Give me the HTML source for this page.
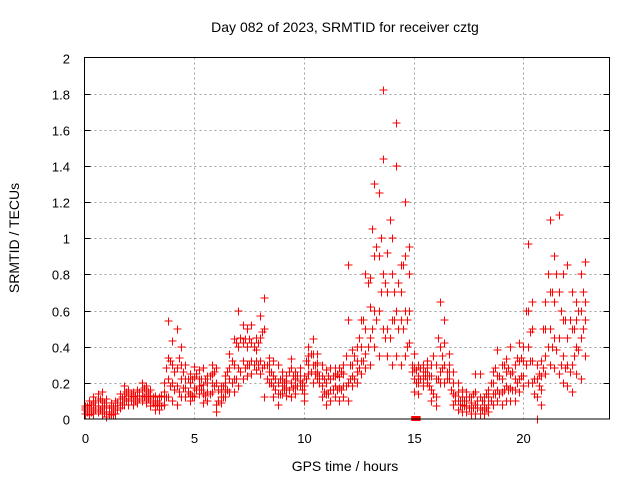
<!DOCTYPE html>
<html><head><meta charset="utf-8"><style>
body{margin:0;background:#fff}
svg{display:block;font-family:"Liberation Sans",sans-serif}
</style></head><body>
<svg id="chart" width="640" height="480">
<text x="345" y="32" font-size="14" text-anchor="middle" fill="#000">Day 082 of 2023, SRMTID for receiver cztg</text>
<text transform="translate(19,238) rotate(-90)" font-size="14" text-anchor="middle">SRMTID / TECUs</text>
<text x="345" y="471" font-size="14" text-anchor="middle">GPS time / hours</text>
<g id="grid"></g><g id="marks"></g>
<rect x="84.5" y="57.5" width="525" height="361.5" fill="none" stroke="#000" stroke-width="1"/>
</svg>
<script>
const times=[0,0.2,0.4,0.6,0.8,1,1.2,1.4,1.6,1.8,2,2.2,2.4,2.6,2.8,3,3.2,3.4,3.6,3.8,4,4.2,4.4,4.6,4.8,5,5.2,5.4,5.6,5.8,6,6.2,6.4,6.6,6.8,7,7.2,7.4,7.6,7.8,8,8.2,8.4,8.6,8.8,9,9.2,9.4,9.6,9.8,10,10.2,10.4,10.6,10.8,11,11.2,11.4,11.6,11.8,12,12.2,12.4,12.6,12.8,13,13.2,13.4,13.6,13.8,14,14.2,14.4,14.6,14.8,15,15.2,15.4,15.6,15.8,16,16.2,16.4,16.6,16.8,17,17.2,17.4,17.6,17.8,18,18.2,18.4,18.6,18.8,19,19.2,19.4,19.6,19.8,20,20.2,20.4,20.6,20.8,21,21.2,21.4,21.6,21.8,22,22.2,22.4,22.6,22.8];
const lo=[.03,.02,.03,.04,.03,.01,.02,.03,.06,.08,.08,.08,.09,.10,.09,.07,.05,.05,.08,.12,.10,.08,.12,.12,.10,.12,.14,.09,.10,.15,.04,.09,.12,.15,.15,.18,.22,.24,.25,.27,.25,.12,.20,.12,.08,.14,.13,.12,.14,.18,.10,.25,.20,.22,.12,.08,.10,.12,.10,.12,.10,.18,.20,.25,.28,.30,.40,.35,.50,.35,.30,.35,.30,.35,.42,.15,.14,.18,.20,.10,.07,.20,.20,.22,.08,.05,.04,.04,.03,.03,.03,.03,.04,.08,.10,.08,.10,.10,.10,.15,.18,.20,.20,.00,.08,.25,.30,.28,.25,.20,.18,.15,.25,.22,.35];
const m1=[.05,.05,.06,.07,.06,.04,.04,.05,.09,.11,.11,.10,.11,.13,.12,.10,.08,.07,.12,.22,.20,.18,.22,.17,.14,.17,.18,.14,.15,.20,.08,.12,.16,.22,.22,.28,.32,.30,.32,.32,.32,.30,.26,.18,.14,.18,.17,.20,.18,.21,.14,.30,.30,.26,.18,.14,.16,.18,.17,.18,.20,.24,.26,.32,.36,.45,.60,.60,.80,.50,.55,.60,.55,.60,.60,.22,.20,.22,.24,.16,.12,.26,.30,.26,.14,.10,.08,.07,.06,.08,.06,.05,.08,.14,.16,.15,.18,.17,.16,.22,.24,.40,.32,.12,.16,.35,.50,.45,.45,.35,.30,.30,.40,.45,.55];
const m2=[.06,.08,.09,.10,.10,.07,.06,.07,.11,.14,.13,.12,.13,.16,.14,.13,.10,.09,.15,.34,.30,.28,.30,.22,.20,.23,.22,.19,.20,.25,.20,.15,.20,.28,.30,.40,.42,.40,.42,.38,.45,.50,.30,.24,.20,.22,.21,.28,.22,.24,.18,.35,.36,.31,.24,.20,.22,.24,.23,.25,.55,.30,.32,.40,.50,.62,.90,.90,1.44,.70,.80,1.40,.70,.90,.80,.28,.24,.26,.28,.24,.22,.40,.42,.30,.20,.15,.12,.10,.09,.15,.12,.08,.12,.20,.24,.22,.26,.25,.22,.32,.32,.60,.50,.22,.24,.50,.70,.65,.70,.55,.45,.50,.55,.60,.65];
const hi=[.07,.10,.12,.14,.15,.11,.09,.10,.14,.18,.16,.15,.16,.20,.18,.16,.13,.12,.20,.54,.43,.50,.40,.30,.25,.29,.27,.28,.24,.30,.28,.18,.24,.36,.44,.60,.52,.50,.52,.45,.57,.67,.34,.32,.30,.26,.24,.33,.26,.28,.24,.40,.44,.36,.30,.27,.28,.28,.28,.30,.85,.38,.40,.55,.80,.78,1.30,1.25,1.82,.92,1.00,1.64,.85,1.20,.95,.36,.30,.30,.32,.30,.30,.65,.55,.36,.26,.20,.16,.15,.12,.25,.25,.12,.16,.26,.38,.30,.33,.40,.30,.42,.40,.97,.65,.30,.32,.65,1.10,.90,1.13,.80,.85,.70,.65,.80,.87];
const halfTimes=[0.1,0.3,0.5,0.7,0.9,1.1,1.3,1.5,1.7,1.9,2.1,2.3,2.5,2.7,2.9,3.1,3.3,3.5,3.7,3.9,4.1,4.3,4.5,4.7,4.9,5.1,5.3,5.5,5.7,5.9,6.1,6.3,6.5,6.7,6.9,7.1,7.3,7.5,7.7,7.9,8.1,8.3,8.5,8.7,8.9,9.1,9.3,9.5,9.7,9.9,10.1,10.3,10.5,10.7,10.9,11.1,11.3,11.5,11.7,11.9,12.1,12.3,12.5,12.7,12.9,13.1,13.3,13.5,13.7,13.9,14.1,14.3,14.5,14.7,14.9,15.1,15.3,15.5,15.7,15.9,16.1,16.3,16.5,16.7,16.9,17.1,17.3,17.5,17.7,17.9,18.1,18.3,18.5,18.7,18.9,19.1,19.3,19.5,19.7,19.9,20.1,20.3,20.5,20.7,20.9,21.1,21.3,21.5,21.7,21.9,22.1,22.3,22.5,22.7];
const halfLo=[.04,.04,.05,.05,.04,.03,.03,.05,.08,.10,.10,.10,.11,.12,.11,.09,.07,.07,.12,.18,.16,.15,.17,.15,.13,.16,.16,.13,.14,.18,.10,.12,.16,.20,.22,.26,.28,.30,.30,.30,.28,.22,.20,.16,.14,.16,.16,.17,.18,.16,.22,.26,.25,.20,.15,.14,.16,.16,.16,.18,.22,.22,.28,.32,.40,.50,.55,.70,.45,.45,.55,.50,.50,.55,.30,.20,.22,.24,.18,.14,.22,.28,.26,.16,.10,.08,.07,.06,.06,.06,.05,.06,.10,.14,.14,.16,.16,.16,.20,.24,.30,.32,.14,.18,.28,.40,.40,.38,.30,.28,.26,.35,.38,.50];
const halfHi=[.07,.08,.10,.11,.09,.06,.07,.09,.12,.15,.14,.13,.15,.17,.15,.12,.10,.13,.28,.32,.26,.34,.26,.22,.22,.25,.22,.22,.24,.26,.16,.18,.26,.32,.42,.45,.44,.44,.40,.42,.48,.30,.26,.22,.22,.20,.26,.24,.24,.20,.32,.36,.30,.24,.22,.24,.24,.25,.26,.35,.30,.35,.45,.55,.75,1.05,.95,1.00,.75,1.10,.70,.75,.85,.40,.26,.27,.28,.26,.24,.35,.45,.35,.22,.16,.13,.10,.10,.12,.14,.10,.10,.14,.20,.28,.24,.30,.28,.26,.34,.34,.60,.48,.22,.25,.50,.80,.70,.80,.60,.55,.55,.50,.60,.70];
const zeroTimes=[15.0,15.1,15.2];
const xTicks=[0,5,10,15,20];
const yTicks=[0,0.2,0.4,0.6,0.8,1,1.2,1.4,1.6,1.8,2];
const yTickLabels=["0","0.2","0.4","0.6","0.8","1","1.2","1.4","1.6","1.8","2"];

const X0=84.5,X1=609.5,Y0=419,Y1=57.5,XMAX=23.92,YMAX=2;
const xs=t=>X0+(X1-X0)*t/XMAX;
const ys=v=>Y0-(Y0-Y1)*v/YMAX;
const NS="http://www.w3.org/2000/svg";
const svg=document.getElementById('chart'),grid=document.getElementById('grid'),marks=document.getElementById('marks');
function mk(tag,attrs,parent){const e=document.createElementNS(NS,tag);for(const k in attrs)e.setAttribute(k,attrs[k]);parent.appendChild(e);return e;}
xTicks.forEach(t=>{const x=Math.round(xs(t))+0.5;
 if(t>0){const g=mk('line',{x1:x,x2:x,y1:Y1,y2:Y0,stroke:'#a0a0a0','stroke-dasharray':'2,3'},grid);
 
 }
 const l=mk('text',{x:x,y:443,'font-size':'13','text-anchor':'middle'},svg);l.textContent=t;
 
 });
yTicks.forEach((v,i)=>{const y=Math.round(ys(v))+0.5;
 if(v>0&&v<2){const g=mk('line',{x1:X0,x2:X1,y1:y,y2:y,stroke:'#a0a0a0','stroke-dasharray':'2,3'},grid);
 
 
 mk('line',{x1:X0,x2:X0+6,y1:y,y2:y,stroke:'#000'},grid);mk('line',{x1:X1-6,x2:X1,y1:y,y2:y,stroke:'#000'},grid);}
 const l=mk('text',{x:70,y:y+5,'font-size':'13','text-anchor':'end'},svg);l.textContent=yTickLabels[i];
 
 });
let d='';
function addPts(ts,arr){arr.forEach((v,i)=>{const x=Math.round(xs(ts[i])),y=Math.round(ys(v));d+=`M${x-3.5},${y}h8M${x+0.5},${y-3.5}v8`;});}
[lo,m1,m2,hi].forEach(arr=>addPts(times,arr));
[halfLo,halfHi].forEach(arr=>addPts(halfTimes,arr));
const p=mk('path',{d:d,stroke:'#ff0000','stroke-width':'1.4',fill:'none','shape-rendering':'crispEdges'},marks);


zeroTimes.forEach(t=>{const r=mk('rect',{x:xs(t)-2.5,y:ys(0)-3,width:5,height:5,fill:'#ff0000'},marks);
 
 });
</script>
</body></html>
